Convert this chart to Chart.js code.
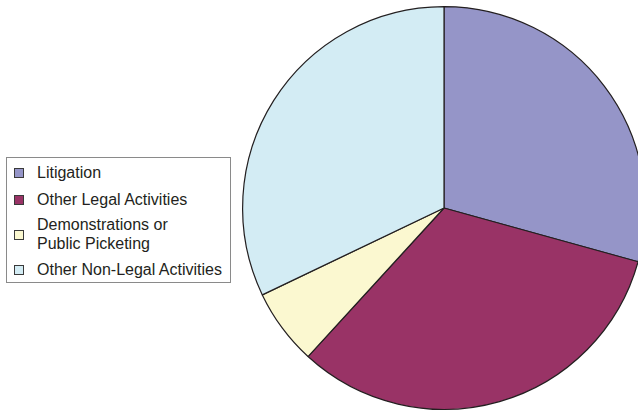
<!DOCTYPE html>
<html>
<head>
<meta charset="utf-8">
<script src="https://cdn.jsdelivr.net/npm/chart.js@4.4.0/dist/chart.umd.min.js"></script>
<style>
    html, body {
        margin: 0;
        padding: 0;
        width: 638px;
        height: 411px;
        overflow: hidden;
        background: #fff;
        font-family: "Liberation Sans", Arial, sans-serif;
    }
    #pieWrap {
        position: absolute;
        left: 234px;
        top: -2px;
        width: 420px;
        height: 420px;
    }
    #legend {
        position: absolute;
        left: 6px;
        top: 157px;
        width: 225px;
        height: 126px;
        box-sizing: border-box;
        border: 1px solid #8a8a8a;
    }
    .legend-item {
        position: absolute;
        left: 7px;
        display: flex;
        align-items: center;
        font-size: 16px;
        line-height: 18.3px;
        color: #231f20;
        white-space: nowrap;
    }
    .legend-swatch {
        width: 10px;
        height: 10px;
        box-sizing: border-box;
        border: 1px solid #3a3a3a;
        margin-right: 13px;
        flex: none;
    }
</style>
</head>
<body>
<div id="pieWrap"><canvas id="pieChart" width="420" height="420"></canvas></div>
<div id="legend"></div>

<script>
// Chart data
const categories = ['Litigation', 'Other Legal Activities', 'Demonstrations or Public Picketing', 'Other Non-Legal Activities'];
const legendLines = [['Litigation'], ['Other Legal Activities'], ['Demonstrations or', 'Public Picketing'], ['Other Non-Legal Activities']];
const shares = [29.3, 32.5, 6.1, 32.1];
const sliceColors = ['#9595c8', '#993366', '#fbf8d0', '#d3ecf4'];

// legend row tops, relative to the legend box
const legendTops = [6.3, 32.9, 58.3, 103.3];

const legendBox = document.getElementById('legend');
legendBox.innerHTML = categories.map((c, i) => `
    <div class="legend-item" style="top:${legendTops[i]}px">
        <span class="legend-swatch" style="background:${sliceColors[i]}"></span>
        <span>${legendLines[i].join('<br>')}</span>
    </div>`).join('');

new Chart(document.getElementById('pieChart').getContext('2d'), {
    type: 'pie',
    data: {
        labels: categories,
        datasets: [{
            data: shares,
            backgroundColor: sliceColors,
            borderColor: '#231f20',
            borderWidth: 1.2
        }]
    },
    options: {
        responsive: false,
        animation: false,
        layout: { padding: 8 },
        plugins: {
            legend: { display: false },
            tooltip: { enabled: false }
        }
    }
});
</script>
</body>
</html>
